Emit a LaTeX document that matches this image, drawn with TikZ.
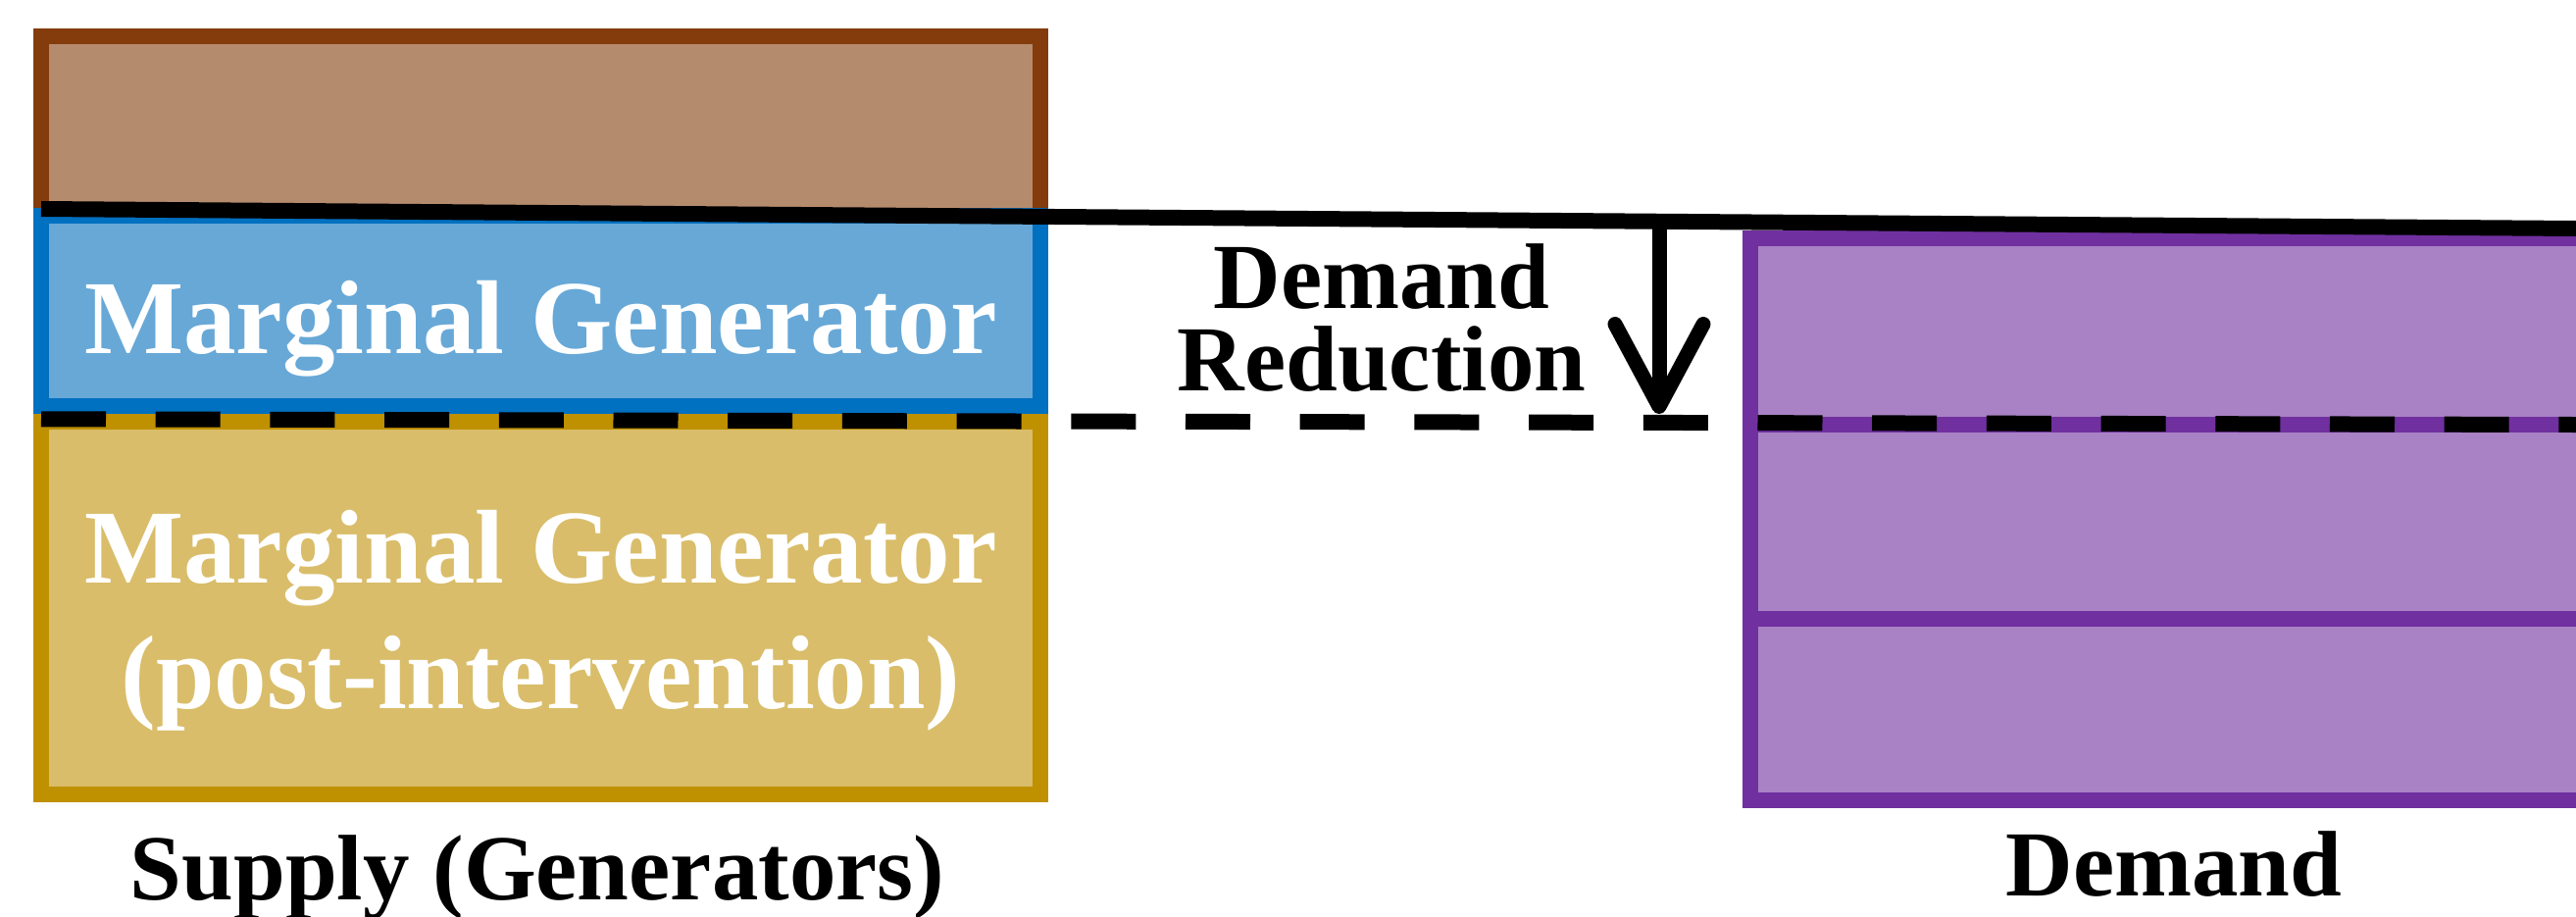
\documentclass[tikz,border=0pt]{standalone}
\usepackage{fontspec}
\setmainfont{Liberation Serif}
\usetikzlibrary{arrows.meta}
\definecolor{brownedge}{HTML}{843C0C}
\definecolor{brownfill}{HTML}{B58B6E}
\definecolor{blueedge}{HTML}{0070C0}
\definecolor{bluefill}{HTML}{67A8D7}
\definecolor{goldedge}{HTML}{BF9000}
\definecolor{goldfill}{HTML}{D9BD6A}
\definecolor{purpleedge}{HTML}{7030A0}
\definecolor{purplefill}{HTML}{A882C4}
\begin{document}
\begin{tikzpicture}[x=0.1mm, y=-0.1mm,
  stackbox/.style={draw=#1edge, fill=#1fill, line width=1.6mm, rectangle,
    inner sep=0pt, outer sep=0pt},
  whitetext/.style={font=\bfseries\fontsize{30.45pt}{36.5pt}\selectfont,
    text=white, align=center, inner sep=0pt},
  captext/.style={font=\bfseries\fontsize{27pt}{23.9pt}\selectfont,
    text=black, align=center, inner sep=0pt},
  priceline/.style={line width=1.6mm, black},
  cutline/.style={line width=1.6mm, black, dash pattern=on 6.6mm off 5.07mm},
  divider/.style={line width=1.6mm, purpleedge},
  dropline/.style={line width=1.5mm, black,
    -{Straight Barb[length=8.4mm, width=9mm, line cap=round, line join=round]}}]
\useasboundingbox (0,0) rectangle (2627,934);
\clip (0,0) rectangle (2627,934);

% supply stack
\node[stackbox=brown, minimum width=101.96mm, minimum height=18.24mm] (top) at (551.5,128.5) {};
\node[stackbox=blue, minimum width=101.96mm, minimum height=19.4mm] (marg) at (551.5,316.7) {};
\node[stackbox=gold, minimum width=101.96mm, minimum height=38.03mm] (post) at (551.5,619.9) {};

% demand stack
\node[stackbox=purple, minimum width=93.5mm, minimum height=57.3mm] (dem) at (2252.5,529.5) {};
\coordinate (d1l) at (1785,432.6);
\coordinate (d1r) at (2720,432.6);
\coordinate (d2l) at (1785,630.7);
\coordinate (d2r) at (2720,630.7);
\draw[divider] (d1l) -- (d1r);
\draw[divider] (d2l) -- (d2r);

% texts (multi-line nodes are anchored on the baseline of their last line)
\node[whitetext, anchor=base] (margtxt) at (551.5,360) {Marginal Generator};
\node[whitetext, anchor=base] (posttxt) at (551.5,722.8) {Marginal Generator\\(post-intervention)};
\node[captext, anchor=base] (redtxt) at (1409,398.3) {Demand\\Reduction};
\node[captext, anchor=base] (supplytxt) at (548,917) {Supply (Generators)};
\node[captext, anchor=base] (demandtxt) at (2217,913) {Demand};

% price levels
\coordinate (cutl) at (42,427.3);
\coordinate (cutr) at (2627,433);
\draw[cutline] (cutl) -- (cutr);
\coordinate (pl) at (42,213);
\coordinate (pr) at (2640,233.1);
\draw[priceline] (pl) -- (pr);

% reduction arrow
\coordinate (dropstart) at (1692,225.7);
\coordinate (dropend) at (1692,422);
\draw[dropline] (dropstart) -- (dropend);
\end{tikzpicture}
\end{document}
